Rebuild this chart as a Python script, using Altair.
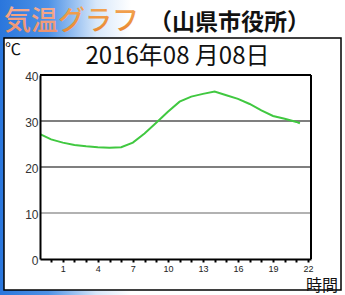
import altair as alt
import pandas as pd

# ---- data ----
hours = [-0.9, 0, 1, 2, 3, 4, 5, 6, 7, 8, 9, 10, 11, 12, 13, 14, 15, 16, 17, 18, 19, 20, 21, 21.3]
temps = [27.1, 26.0, 25.3, 24.8, 24.5, 24.3, 24.2, 24.3, 25.3, 27.3, 29.6, 32.0, 34.2, 35.3,
         35.9, 36.4, 35.6, 34.8, 33.7, 32.3, 31.1, 30.5, 29.8, 29.5]
y_ticks = [0, 10, 20, 30, 40]
x_ticks = list(range(0, 23))
x_labels = [1, 4, 7, 10, 13, 16, 19, 22]
grid_gray = [10]
grid_black = [20, 30]
grid_top = [40]

header_a = "気温"
header_b = "グラフ"
place = "（山県市役所）"
date_title = "2016年08 月08日"
unit = "℃"
x_title = "時間"

W, H = 271, 184
PAD = {"left": 40, "top": 75, "right": 34, "bottom": 36}
CJK = "Noto Sans CJK JP"

df = pd.DataFrame({"hour": hours, "temp": temps})
xs = alt.Scale(domain=[-0.95, 22.25], nice=False, zero=False)
ys = alt.Scale(domain=[0, 40], nice=False, zero=False)

label_list = ",".join(str(v) for v in x_labels)
x_axis = alt.Axis(values=x_ticks, title=None, grid=False, zindex=1,
                  labelExpr=f"indexof([{label_list}], datum.value) >= 0 ? datum.label : ''",
                  tickSize=3, tickWidth=2, tickColor="black",
                  domainColor="black", domainWidth=2,
                  labelFont="Liberation Sans", labelFontSize=9, labelColor="#222",
                  labelPadding=2, labelFlush=False)
y_axis = alt.Axis(values=y_ticks, title=None, grid=False, ticks=False, zindex=1,
                  domainColor="black", domainWidth=2,
                  labelFont="Liberation Sans", labelFontSize=12, labelColor="#333",
                  labelPadding=2, labelOffset=1)


def one(txt):
    return pd.DataFrame({"t": [txt]})


bg = alt.Chart(one("bg")).mark_rect(
    color=alt.Gradient(gradient="linear", x1=0, x2=1, y1=0, y2=0,
                       stops=[alt.GradientStop(color="#2a76dc", offset=0),
                              alt.GradientStop(color="#4e92e6", offset=0.14),
                              alt.GradientStop(color="#d8e8fa", offset=0.28),
                              alt.GradientStop(color="#ffffff", offset=0.38),
                              alt.GradientStop(color="#ffffff", offset=1)])
).encode(x=alt.value(-40), x2=alt.value(305), y=alt.value(-75), y2=alt.value(220))

panel = alt.Chart(one("panel")).mark_rect(fill="white", stroke="black", strokeWidth=1.5).encode(
    x=alt.value(-36), x2=alt.value(301), y=alt.value(-37), y2=alt.value(215))

g_gray = alt.Chart(pd.DataFrame({"v": grid_gray})).mark_rule(color="#999999", strokeWidth=1.5).encode(
    y=alt.Y("v:Q", scale=ys, axis=y_axis))
g_black = alt.Chart(pd.DataFrame({"v": grid_black})).mark_rule(color="black", strokeWidth=1.2).encode(
    y=alt.Y("v:Q", scale=ys, axis=y_axis))
g_top = alt.Chart(pd.DataFrame({"v": grid_top})).mark_rule(color="black", strokeWidth=2).encode(
    y=alt.Y("v:Q", scale=ys, axis=y_axis))

line = alt.Chart(df).mark_line(color="#40c840", strokeWidth=2, clip=True).encode(
    x=alt.X("hour:Q", scale=xs, axis=x_axis),
    y=alt.Y("temp:Q", scale=ys, axis=y_axis))

right_border = alt.Chart(one("rb")).mark_rule(color="black", strokeWidth=2).encode(
    x=alt.value(W), y=alt.value(0), y2=alt.value(H))

t_head_a = alt.Chart(one(header_a)).mark_text(
    font=CJK, fontSize=27, fontWeight=500, align="center", baseline="middle",
    color=alt.Gradient(gradient="linear", x1=0, x2=0, y1=0, y2=1,
                       stops=[alt.GradientStop(color="#f8b49a", offset=0),
                              alt.GradientStop(color="#ec8c66", offset=1)])
).encode(text="t:N", x=alt.value(-9), y=alt.value(-53))

t_head_b = alt.Chart(one(header_b)).mark_text(
    font=CJK, fontSize=27, fontWeight=500, align="center", baseline="middle",
    color=alt.Gradient(gradient="linear", x1=0, x2=0, y1=0, y2=1,
                       stops=[alt.GradientStop(color="#f6ac5c", offset=0),
                              alt.GradientStop(color="#e6822a", offset=1)])
).encode(text="t:N", x=alt.value(58.5), y=alt.value(-53))

t_place = alt.Chart(one(place)).mark_text(
    font=CJK, fontSize=23, fontWeight="bold", align="center", baseline="middle", color="#111"
).encode(text="t:N", x=alt.value(189.5), y=alt.value(-52))

t_date = alt.Chart(one(date_title)).mark_text(
    font=CJK, fontSize=24, align="center", baseline="middle", color="#111"
).encode(text="t:N", x=alt.value(137.5), y=alt.value(-18))

t_unit = alt.Chart(one(unit)).mark_text(
    font=CJK, fontSize=16, align="left", baseline="middle", color="#111"
).encode(text="t:N", x=alt.value(-35), y=alt.value(-25))

t_xtitle = alt.Chart(one(x_title)).mark_text(
    font=CJK, fontSize=16, align="center", baseline="middle", color="#111"
).encode(text="t:N", x=alt.value(282), y=alt.value(211))

chart = alt.layer(
    bg, panel, g_gray, g_black, line, g_top, right_border,
    t_head_a, t_head_b, t_place, t_date, t_unit, t_xtitle
).properties(
    width=W, height=H,
    autosize=alt.AutoSizeParams(type="none"),
    padding=PAD,
).configure_view(strokeWidth=0).resolve_scale(x="shared", y="shared")

chart.save("out.html", embed_options={"renderer": "svg", "actions": False})
